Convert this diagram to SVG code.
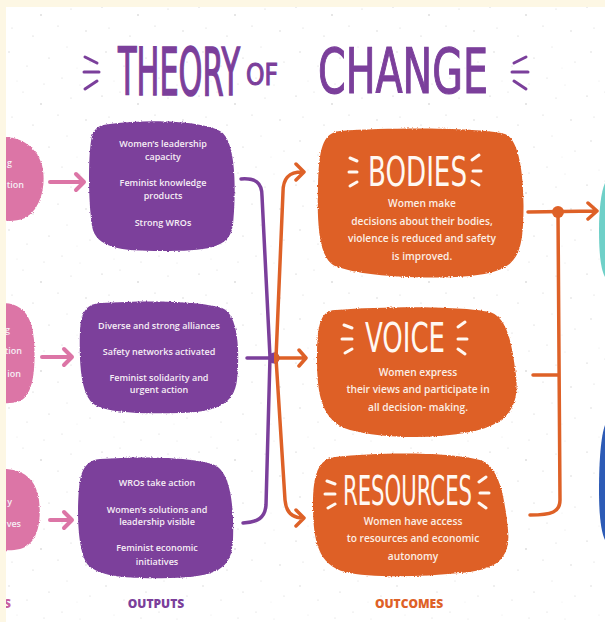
<svg xmlns="http://www.w3.org/2000/svg" width="605" height="622" viewBox="0 0 605 622">
<defs>
<pattern id="speck" width="97" height="89" patternUnits="userSpaceOnUse">
<circle cx="5" cy="7" r="0.6" fill="#777" opacity="0.5"/>
<circle cx="23" cy="3" r="0.5" fill="#888" opacity="0.4"/>
<circle cx="41" cy="15" r="0.7" fill="#666" opacity="0.45"/>
<circle cx="12" cy="28" r="0.5" fill="#777" opacity="0.4"/>
<circle cx="33" cy="36" r="0.6" fill="#888" opacity="0.5"/>
<circle cx="58" cy="26" r="0.5" fill="#666" opacity="0.4"/>
<circle cx="9" cy="52" r="0.7" fill="#777" opacity="0.35"/>
<circle cx="27" cy="66" r="0.5" fill="#888" opacity="0.45"/>
<circle cx="49" cy="58" r="0.6" fill="#777" opacity="0.4"/>
<circle cx="17" cy="81" r="0.4" fill="#999" opacity="0.5"/>
<circle cx="71" cy="9" r="0.5" fill="#777" opacity="0.4"/>
<circle cx="86" cy="31" r="0.7" fill="#888" opacity="0.4"/>
<circle cx="67" cy="47" r="0.4" fill="#666" opacity="0.5"/>
<circle cx="90" cy="62" r="0.6" fill="#777" opacity="0.35"/>
<circle cx="62" cy="78" r="0.5" fill="#888" opacity="0.45"/>
<circle cx="80" cy="85" r="0.4" fill="#777" opacity="0.4"/>
<circle cx="44" cy="84" r="0.6" fill="#999" opacity="0.4"/>
<circle cx="77" cy="68" r="0.3" fill="#666" opacity="0.5"/>
</pattern>
<filter id="rough" x="-5%" y="-5%" width="110%" height="110%">
<feTurbulence type="fractalNoise" baseFrequency="0.8" numOctaves="1" seed="3"/>
<feDisplacementMap in="SourceGraphic" scale="3" xChannelSelector="R" yChannelSelector="G"/>
</filter>
</defs>
<style>
.pur{fill:#7b3f9b;filter:url(#rough)}
.ora{fill:#de6127;filter:url(#rough)}
.pnk{fill:#dc75a6;filter:url(#rough)}
.t{font-family:"Open Sans","DejaVu Sans",sans-serif;font-weight:600;fill:#f6eef5;text-anchor:middle}
.ts{font-size:9px}
.to{font-size:10.2px;fill:#fbeee5}
.hand{font-family:"DejaVu Sans Condensed","DejaVu Sans",sans-serif;font-weight:normal}
.htit{fill:#7b3f9b;stroke:#7b3f9b;stroke-width:0.8}
.hwhite{fill:#fff8f2}
.dash{fill:none;stroke-linecap:round;stroke-width:3}
.lab{font-family:"Open Sans","DejaVu Sans",sans-serif;font-weight:800;font-size:12px;text-anchor:middle}
.cp{fill:none;stroke:#7b3f9b;stroke-width:3.5;stroke-linecap:round;stroke-linejoin:round}
.co{fill:none;stroke:#de6127;stroke-width:3.5;stroke-linecap:round;stroke-linejoin:round}
.ck{fill:none;stroke:#dc75a6;stroke-width:4;stroke-linecap:round;stroke-linejoin:round}
</style>
<rect width="605" height="622" fill="#ffffff"/>
<rect width="605" height="622" fill="url(#speck)"/>

<g id="title">
<text class="hand htit" transform="translate(118,95) scale(1,1.95)" font-size="34" textLength="122" lengthAdjust="spacingAndGlyphs">THEORY</text>
<text class="hand htit" transform="translate(246,85) scale(1,1.35)" font-size="22" textLength="32" lengthAdjust="spacingAndGlyphs">OF</text>
<text class="hand htit" transform="translate(318,93) scale(1,1.5)" font-size="42" textLength="170" lengthAdjust="spacingAndGlyphs">CHANGE</text>
<g class="dash" stroke="#7b3f9b">
<path d="M97,63 L85,57 M99,72 L84,72 M97,81 L85,89"/>
<path d="M514,63 L526,57 M512,72 L528,72 M514,81 L526,89"/>
</g>
</g>

<g id="pink1">
<path class="pnk" d="M0,137 C20,136 36,146 42,165 C47,186 40,210 25,218 C15,222 6,221 0,220 Z"/>
<text class="t ts" x="12" y="166" style="text-anchor:end">g</text>
<text class="t ts" x="24" y="188" style="text-anchor:end">tion</text>
</g>
<g id="pink2">
<path class="pnk" d="M0,303 C20,302 32,313 34,340 C36,370 33,395 20,401 C12,404 5,403 0,403 Z"/>
<text class="t ts" x="10" y="333" style="text-anchor:end">g</text>
<text class="t ts" x="22" y="354" style="text-anchor:end">tion</text>
<text class="t ts" x="21" y="377" style="text-anchor:end">ion</text>
</g>
<g id="pink3">
<path class="pnk" d="M0,469 C22,468 36,478 39,500 C42,525 36,545 20,549 C12,551 5,550 0,550 Z"/>
<text class="t ts" x="12" y="505" style="text-anchor:end">y</text>
<text class="t ts" x="21" y="527" style="text-anchor:end">ves</text>
</g>

<g id="out1">
<path class="pur" d="M110,124 C150,119 200,121 220,131 C237,140 236,195 233,225 C230,249 205,251 162,251 C120,251 96,248 92,226 C88,200 88,152 92,136 C95,127 100,125 110,124 Z"/>
<text class="t ts" x="163" y="147">Women’s leadership</text>
<text class="t ts" x="163" y="160">capacity</text>
<text class="t ts" x="163" y="186">Feminist knowledge</text>
<text class="t ts" x="163" y="199">products</text>
<text class="t ts" x="163" y="226">Strong WROs</text>
</g>
<g id="out2">
<path class="pur" d="M100,303 C150,300 200,301 222,308 C238,314 240,350 237,380 C234,405 215,412 180,413 C140,414 110,413 95,405 C80,396 79,360 80,330 C81,310 88,304 100,303 Z"/>
<text class="t ts" x="159" y="329">Diverse and strong alliances</text>
<text class="t ts" x="159" y="355">Safety networks activated</text>
<text class="t ts" x="159" y="381">Feminist solidarity and</text>
<text class="t ts" x="159" y="393">urgent action</text>
</g>
<g id="out3">
<path class="pur" d="M100,459 C140,456 190,457 212,464 C232,470 234,510 233,540 C232,570 215,577 170,578 C130,579 100,577 88,565 C76,550 77,500 80,480 C83,465 90,460 100,459 Z"/>
<text class="t ts" x="157" y="486">WROs take action</text>
<text class="t ts" x="157" y="513">Women’s solutions and</text>
<text class="t ts" x="157" y="525">leadership visible</text>
<text class="t ts" x="157" y="551">Feminist economic</text>
<text class="t ts" x="157" y="565">initiatives</text>
</g>

<g id="bodies">
<path class="ora" d="M340,131 C400,127 480,128 505,134 C522,140 525,190 523,225 C521,262 510,272 470,276 C420,280 360,276 335,266 C318,258 317,220 318,185 C319,150 322,133 340,131 Z"/>
<text class="hand hwhite" x="368" y="186" font-size="40" textLength="99" lengthAdjust="spacingAndGlyphs">BODIES</text>
<path class="dash" stroke="#fff8f2" stroke-width="2" d="M357,161 L350,158 M357,172 L349,172 M357,182 L350,186 M472,160 L479,155 M473,171 L481,171 M472,181 L479,185"/>
<text class="t to" x="422" y="207">Women make</text>
<text class="t to" x="422" y="225">decisions about their bodies,</text>
<text class="t to" x="422" y="242">violence is reduced and safety</text>
<text class="t to" x="422" y="260">is improved.</text>
</g>
<g id="voice">
<path class="ora" d="M335,310 C390,306 460,306 490,312 C508,318 512,345 516,375 C520,410 505,425 470,432 C430,440 380,438 350,430 C322,422 317,395 317,360 C317,325 320,311 335,310 Z"/>
<text class="hand hwhite" x="365" y="352" font-size="40" textLength="80" lengthAdjust="spacingAndGlyphs">VOICE</text>
<path class="dash" stroke="#fff8f2" stroke-width="2" d="M352,328 L344,325 M352,339 L342,339 M352,349 L345,353 M458,327 L465,322 M458,339 L467,339 M458,349 L465,354"/>
<text class="t to" x="418" y="376">Women express</text>
<text class="t to" x="418" y="393">their views and participate in</text>
<text class="t to" x="418" y="411">all decision- making.</text>
</g>
<g id="resources">
<path class="ora" d="M335,457 C380,452 450,452 480,460 C500,466 505,500 508,530 C511,560 495,570 460,573 C420,577 370,578 345,572 C318,565 313,540 313,505 C313,475 318,459 335,457 Z"/>
<text class="hand hwhite" x="343" y="505" font-size="40" textLength="129" lengthAdjust="spacingAndGlyphs">RESOURCES</text>
<path class="dash" stroke="#fff8f2" stroke-width="2" d="M335,484 L327,481 M335,494 L325,494 M335,504 L328,508 M479,482 L486,477 M480,493 L489,493 M479,503 L486,508"/>
<text class="t to" x="413" y="525">Women have access</text>
<text class="t to" x="413" y="542">to resources and economic</text>
<text class="t to" x="413" y="560">autonomy</text>
</g>

<g id="impact-teal"><path d="M605,183 C601,192 599,210 599,230 C599,255 601,270 605,277 Z" fill="#6fd0c8"/></g>
<g id="impact-blue"><path d="M605,425 C601,436 599,460 599,490 C599,515 601,532 605,540 Z" fill="#2d5bb6"/></g>

<g id="connectors">
<path class="ck" d="M50,182 L84,182 M76,174 L84,182 L76,190"/>
<path class="ck" d="M42,357 L72,357 M64,349 L72,357 L64,365"/>
<path class="ck" d="M50,520 L72,520 M64,512 L72,520 L64,528"/>
<path class="cp" d="M241,179 C255,178 262,182 262,196 L270,357 L266,505 C265,518 258,522 243,523 M247,358 L272,358"/>
<path class="co" d="M302,172 C289,172 283,178 283,192 L276,358 L285,500 C286,512 292,518 303,518 M296,164 L304,172 L296,180 M277,358 L306,358 M299,350 L306,358 L299,366 M296,510 L304,518 L296,526"/>
<circle cx="274" cy="358" r="5.5" fill="#7b3f9b"/>
<path d="M274,352.5 A5.5,5.5 0 0 1 274,363.5 Z" fill="#de6127"/>
<path class="co" d="M528,212 L597,211 M588,203 L597,211 L588,219 M558,212 L560,500 C560,512 552,515 530,515 M533,375 L559,375"/>
<circle cx="558" cy="212" r="6" fill="#de6127"/>
</g>

<g id="labels">
<text class="lab" x="4" y="608" fill="#c85fa0" style="text-anchor:start">S</text>
<text class="lab" x="156" y="608" fill="#7b3f9b">OUTPUTS</text>
<text class="lab" x="409" y="608" fill="#de6127">OUTCOMES</text>
</g>

<rect x="0" y="0" width="605" height="7" fill="#fdf7e4"/>
<rect x="0" y="0" width="6" height="622" fill="#fdf7e4"/>
</svg>
